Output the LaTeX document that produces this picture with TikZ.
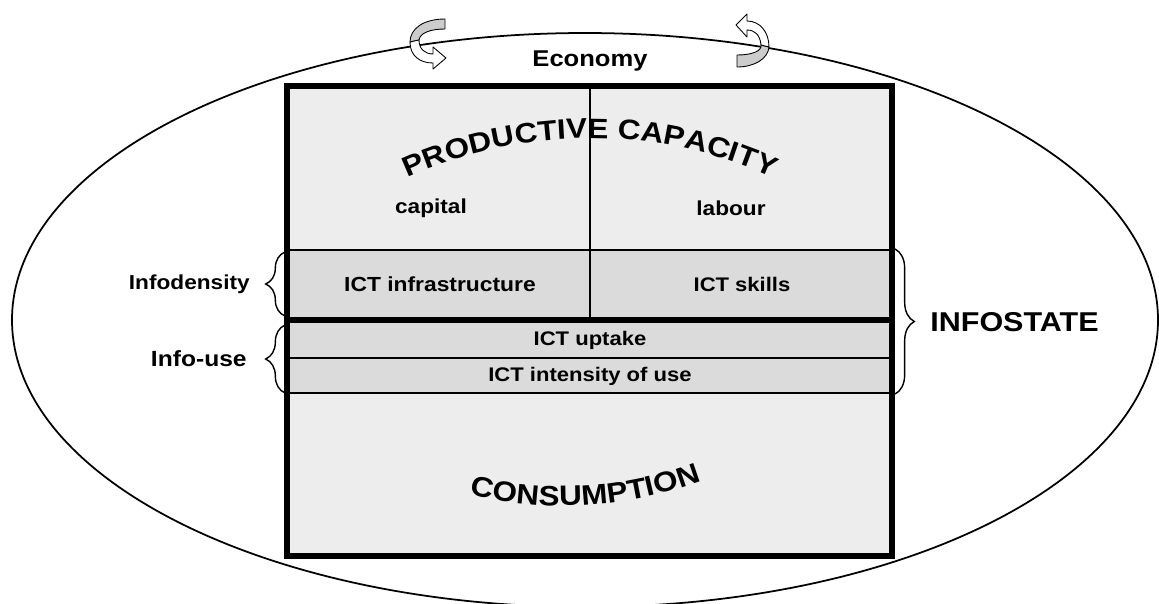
\documentclass[tikz,border=0pt]{standalone}
\usepackage{fontspec}
\setmainfont[FakeStretch=1.12]{Liberation Sans}
\usetikzlibrary{decorations.pathreplacing,decorations.text}

\definecolor{paleshade}{gray}{0.93}
\definecolor{ictshade}{gray}{0.86}

\newcommand{\lblfont}[1]{\bfseries\fontsize{#1}{#1}\selectfont}

\begin{document}
\begin{tikzpicture}[x=0.02cm, y=-0.02cm,
  lbl/.style={font=\lblfont{#1}, inner sep=0pt},
  cellline/.style={line width=0.6pt},
  heavyline/.style={line width=3.6pt},
  bracket/.style={decorate, decoration={brace, amplitude=11pt}, line width=0.8pt},
  ribbonback/.style={draw, line width=0.5pt, fill=gray!40, line join=round},
  ribbonfront/.style={draw, line width=0.5pt, fill=white, line join=round}
]
\useasboundingbox (0,0) rectangle (1159,603);

% the economy
\draw[line width=1pt] (585,320) ellipse [x radius=573, y radius=287];
\node[lbl=13] (economy) at (590,61) {Economy};

% twisted arrows on the rim
\path[ribbonback] (445,19) .. controls (423,19) and (410,29) .. (410,42)
  -- (419,40) .. controls (420,33) and (430,29) .. (445,29) -- cycle;
\path[ribbonfront] (410,42) .. controls (410,56) and (420,63) .. (433,63)
  -- (433,69) -- (446,58) -- (433,47) -- (433,54)
  .. controls (425,54) and (419,49) .. (419,40) -- cycle;
\path[ribbonback] (737,55) .. controls (752,55) and (762,51) .. (761,45)
  -- (769,47) .. controls (768,59) and (754,67) .. (737,67) -- cycle;
\path[ribbonfront] (761,45) .. controls (760,35) and (755,30) .. (747,30)
  -- (747,37) -- (736,25) -- (747,14) -- (747,21)
  .. controls (760,21) and (769,32) .. (769,47) -- cycle;

% block
\coordinate (boxTL) at (287,86);
\coordinate (boxBR) at (892,556);
\fill[paleshade] (boxTL) rectangle (boxBR);
\fill[ictshade] (287,250) rectangle (892,393);
\draw[cellline] (590,86) -- (590,320);
\draw[cellline] (287,250) -- (892,250);
\draw[cellline] (287,358) -- (892,358);
\draw[cellline] (287,393) -- (892,393);
\draw[heavyline] (287,320) -- (892,320);
\draw[heavyline] (boxTL) rectangle (boxBR);

\path[decorate, decoration={text along path, text align=center,
  text={|\lblfont{16}|PRODUCTIVE CAPACITY}}]
  (375,194.2) arc[start angle=240.75, end angle=299.25, radius=440];
\path[decorate, decoration={text along path, text align=center,
  text={|\lblfont{16}|CONSUMPTION}}]
  (452,490) .. controls (535,514) and (628,512) .. (718,474);

\node[lbl=11.5] (capital) at (431,208) {capital};
\node[lbl=11.5] (labour) at (731,208) {labour};
\node[lbl=11.6] (infra) at (440,284) {ICT infrastructure};
\node[lbl=11.2] (skills) at (742,284) {ICT skills};
\node[lbl=11.2] (uptake) at (590,340) {ICT uptake};
\node[lbl=11.2] (intensity) at (590,376) {ICT intensity of use};

% braces
\coordinate (densTop) at (285,252);
\coordinate (densBot) at (285,316);
\coordinate (useTop) at (285,325);
\coordinate (useBot) at (285,393);
\coordinate (stateTop) at (895,249);
\coordinate (stateBot) at (895,394);
\draw[bracket] (densBot) -- (densTop);
\draw[bracket] (useBot) -- (useTop);
\draw[bracket] (stateTop) -- (stateBot);

\node[lbl=11.5, anchor=east] (infodensity) at (250,284) {Infodensity};
\node[lbl=12.5, anchor=east] (infouse) at (247,359) {Info-use};
\node[lbl=15.5, anchor=west] (infostate) at (930,322) {INFOSTATE};

\end{tikzpicture}
\end{document}
